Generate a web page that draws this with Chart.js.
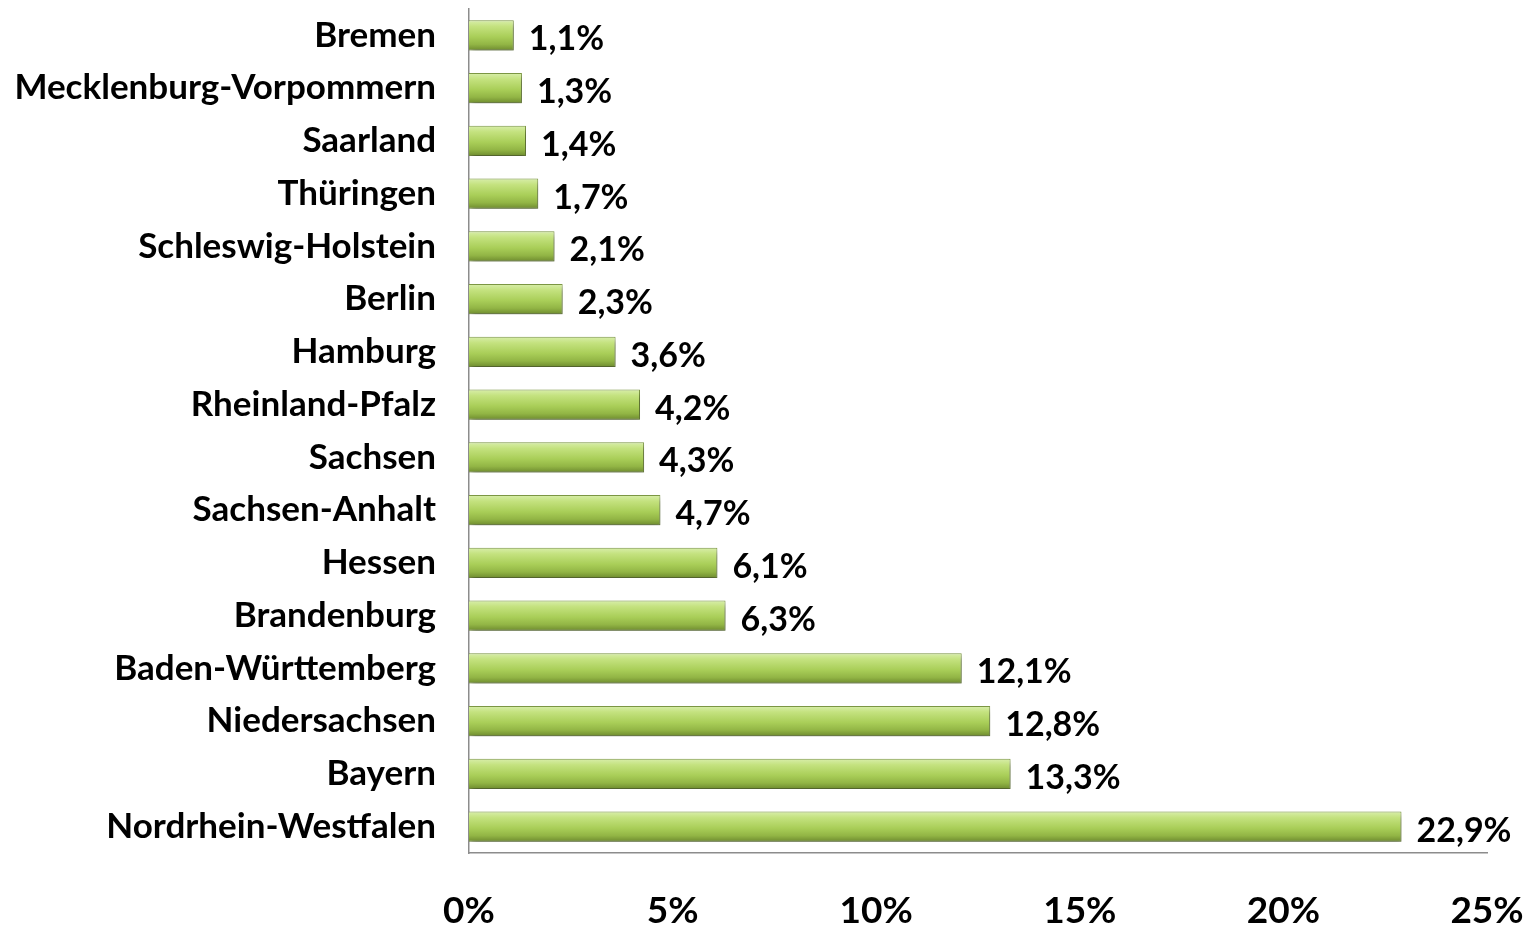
<!DOCTYPE html>
<html>
<head>
<meta charset="utf-8">
<script src="https://cdn.jsdelivr.net/npm/chart.js@4/dist/chart.umd.min.js"></script>
<style>
  html, body { margin: 0; padding: 0; background: #fff; }
  #wrap { width: 1533px; height: 927px; }
</style>
</head>
<body>
<div id="wrap"><canvas id="chart"></canvas></div>
<script>
// Anteile je Bundesland (in %)
const states = ['Bremen', 'Mecklenburg-Vorpommern', 'Saarland', 'Thüringen', 'Schleswig-Holstein',
    'Berlin', 'Hamburg', 'Rheinland-Pfalz', 'Sachsen', 'Sachsen-Anhalt', 'Hessen', 'Brandenburg',
    'Baden-Württemberg', 'Niedersachsen', 'Bayern', 'Nordrhein-Westfalen'];
const shares = [1.1, 1.3, 1.4, 1.7, 2.1, 2.3, 3.6, 4.2, 4.3, 4.7, 6.1, 6.3, 12.1, 12.8, 13.3, 22.9];
const xTicks = [0, 5, 10, 15, 20, 25];

const FONT = 'Lato';
const BAR_PCT = 0.57;

function fmt(v) {
    return v.toFixed(1).replace('.', ',') + '%';
}

// green bevel gradient per bar, computed from the category scale
function barFill(context) {
    const chart = context.chart;
    const yScale = chart.scales.y;
    if (!chart.chartArea || !yScale || context.dataIndex == null) return '#a8c95a';
    const mid = yScale.getPixelForValue(context.dataIndex);
    const half = (yScale.height / states.length) * BAR_PCT / 2;
    if (!isFinite(mid) || !(half > 0)) return '#a8c95a';
    const g = chart.ctx.createLinearGradient(0, mid - half, 0, mid + half);
    g.addColorStop(0, '#d8eeaa');
    g.addColorStop(0.2, '#c4e27f');
    g.addColorStop(0.55, '#a9ce58');
    g.addColorStop(0.8, '#92b545');
    g.addColorStop(1, '#6e8b2f');
    return g;
}

const shadowPlugin = {
    id: 'barShadow',
    beforeDatasetsDraw(chart) {
        const ctx = chart.ctx;
        ctx.save();
        ctx.shadowColor = 'rgba(0,0,0,0.4)';
        ctx.shadowBlur = 6;
        ctx.shadowOffsetX = 2;
        ctx.shadowOffsetY = 4;
    },
    afterDatasetsDraw(chart) {
        chart.ctx.restore();
    }
};

const valueLabels = {
    id: 'valueLabels',
    afterDatasetsDraw(chart) {
        const ctx = chart.ctx;
        const meta = chart.getDatasetMeta(0);
        ctx.save();
        ctx.font = 'bold 34px ' + FONT;
        ctx.fillStyle = '#000';
        ctx.textBaseline = 'middle';
        ctx.textAlign = 'left';
        meta.data.forEach((bar, i) => {
            ctx.fillText(fmt(shares[i]), bar.x + 15, bar.y + 4);
        });
        ctx.restore();
    }
};

function noEdgePadding(scale) {
    scale.paddingTop = 0;
    scale.paddingBottom = 0;
    scale.paddingLeft = 0;
    scale.paddingRight = 0;
}

function initChart() {
    const ctx = document.getElementById('chart');
    new Chart(ctx, {
        type: 'bar',
        data: {
            labels: states,
            datasets: [{
                data: shares,
                backgroundColor: barFill,
                borderColor: '#7f9a45',
                borderWidth: 1,
                barPercentage: BAR_PCT,
                categoryPercentage: 1.0
            }]
        },
        options: {
            indexAxis: 'y',
            responsive: true,
            maintainAspectRatio: false,
            animation: false,
            layout: { padding: { top: 9, right: 46, bottom: 0, left: 0 } },
            plugins: {
                legend: { display: false },
                tooltip: { enabled: false }
            },
            scales: {
                x: {
                    min: 0,
                    max: 25,
                    afterBuildTicks: (axis) => { axis.ticks = xTicks.map(v => ({ value: v })); },
                    afterFit: (s) => { noEdgePadding(s); s.height = 74; },
                    grid: { display: false, drawTicks: false },
                    border: { display: true, color: '#8c8c8c', width: 1.5 },
                    ticks: {
                        padding: 36,
                        color: '#000',
                        font: { family: FONT, size: 37, weight: 'bold' },
                        callback: (v) => v + '%'
                    }
                },
                y: {
                    afterFit: (s) => { noEdgePadding(s); s.width = 469; },
                    grid: { display: false, drawTicks: false },
                    border: { display: true, color: '#8c8c8c', width: 1.5 },
                    ticks: {
                        padding: 33,
                        color: '#000',
                        font: { family: FONT, size: 35, weight: 'bold' }
                    }
                }
            }
        },
        plugins: [shadowPlugin, valueLabels]
    });
}

document.addEventListener('DOMContentLoaded', initChart);
</script>
</body>
</html>
